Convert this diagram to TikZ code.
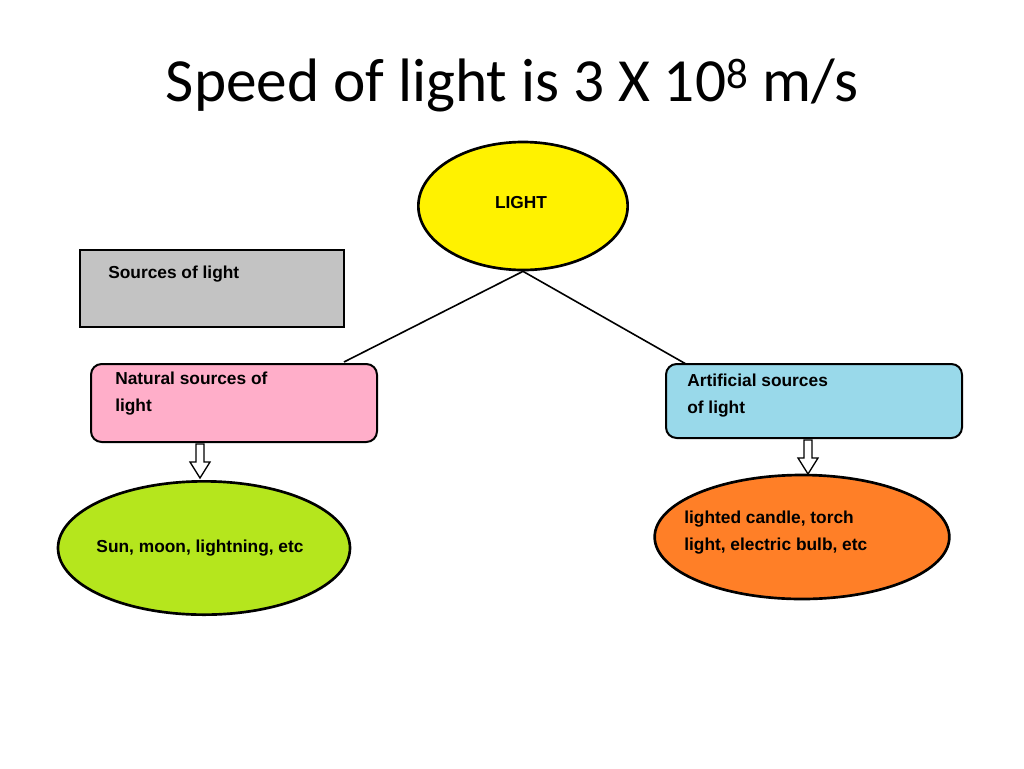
\documentclass[tikz,border=0pt]{standalone}
\usepackage{fontspec}
\setmainfont{Carlito}
\newfontfamily\boldsans{Liberation Sans}
\usetikzlibrary{shapes.geometric}
\begin{document}
\begin{tikzpicture}[x=0.75pt,y=-0.75pt,
  lbl/.style={font=\boldsans\bfseries\fontsize{13pt}{20pt}\selectfont,align=left,anchor=north west,inner sep=0pt},
  ell/.style={ellipse,draw=black,line width=2pt,inner sep=0pt},
  rbox/.style={draw=black,line width=1.5pt,rounded corners=8pt},
  hollow/.style={draw=black,line width=1pt,fill=white}]
\useasboundingbox (0,0) rectangle (1024,768);
\node[font=\fontsize{46pt}{50pt}\selectfont] (title) at (512,85) {Speed of light is 3 X 10\textsuperscript{8} m/s};
\node[ell,fill={rgb,255:red,255;green,242;blue,0},minimum width=157pt,minimum height=96pt] (light) at (523,206) {};
\node[lbl,anchor=center] at (521,203) {LIGHT};
\draw[line width=2pt,fill={rgb,255:red,195;green,195;blue,195}] (80,250) rectangle (344,327);
\node[lbl] (src) at (108,266) {Sources of light};
\draw[rbox,fill={rgb,255:red,255;green,174;blue,201}] (91,364) rectangle (377,442);
\node[lbl] (nat) at (115,372) {Natural sources of\\light};
\draw[rbox,fill={rgb,255:red,153;green,217;blue,234}] (666,364) rectangle (962,438);
\node[lbl] (art) at (687,374) {Artificial sources\\of light};
\coordinate (natc) at (344,362);
\coordinate (artc) at (686,364);
\draw[line width=1.2pt] (light.south) -- (natc);
\draw[line width=1.2pt] (light.south) -- (artc);
\node[ell,fill={rgb,255:red,181;green,230;blue,29},minimum width=219pt,minimum height=100pt] (sun) at (204,548) {};
\node[lbl,anchor=center] at (200,548) {Sun, moon, lightning, etc};
\node[ell,fill={rgb,255:red,255;green,127;blue,39},minimum width=221pt,minimum height=93pt] (cand) at (802,537) {};
\node[lbl] at (684,511) {lighted candle, torch\\light, electric bulb, etc};
\draw[hollow] (196,444) -- (204,444) -- (204,462) -- (210,462) -- (200,478) -- (190,462) -- (196,462) -- cycle;
\draw[hollow] (804,440) -- (812,440) -- (812,458) -- (818,458) -- (808,474) -- (798,458) -- (804,458) -- cycle;
\end{tikzpicture}
\end{document}
